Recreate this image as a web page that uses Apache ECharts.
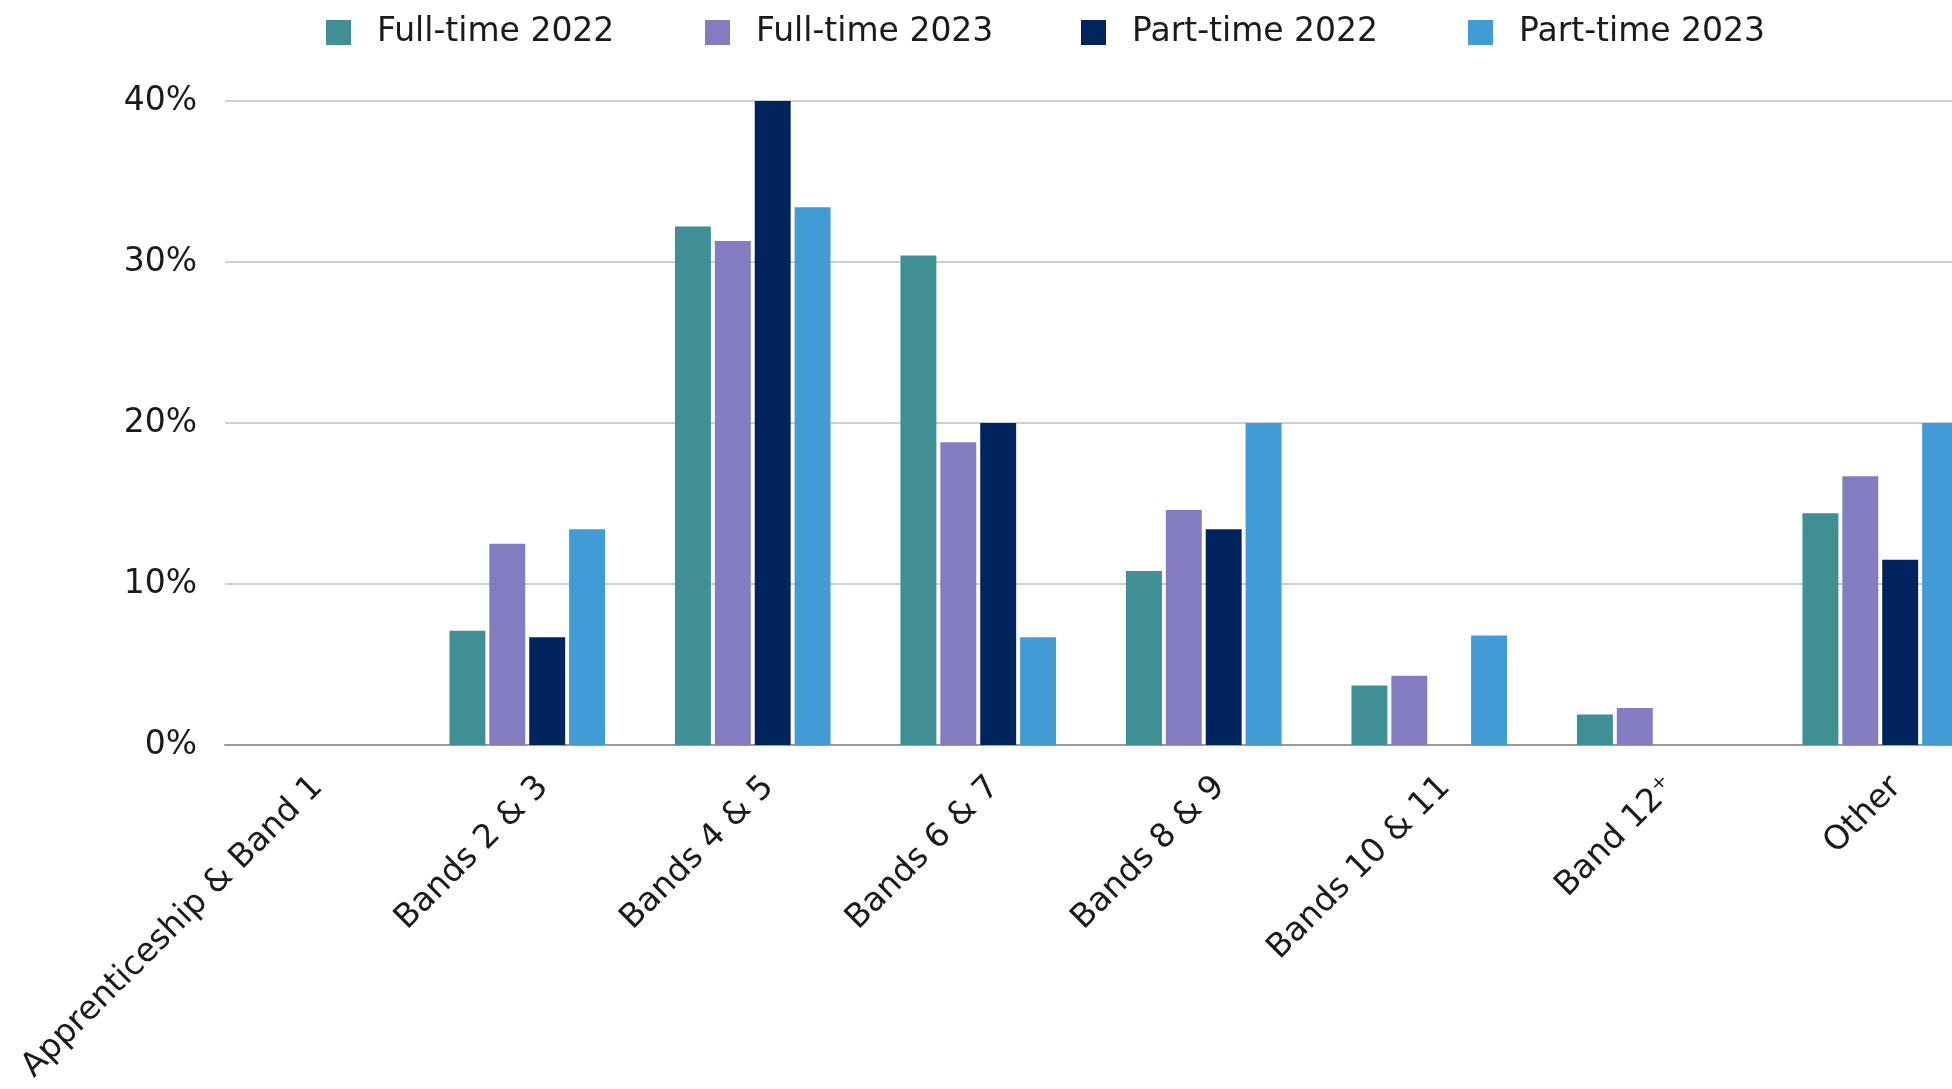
<!DOCTYPE html>
<html>
<head>
<meta charset="utf-8">
<script src="https://cdn.jsdelivr.net/npm/echarts@6/dist/echarts.min.js"></script>
<style>
  html, body { margin: 0; padding: 0; background: #ffffff; overflow: hidden; }
  #chart { width: 1952px; height: 1089px; }
</style>
</head>
<body>
<div id="chart"></div>
<script>
// Pay band groups
const categories = ['Apprenticeship & Band 1', 'Bands 2 & 3', 'Bands 4 & 5', 'Bands 6 & 7',
  'Bands 8 & 9', 'Bands 10 & 11', 'Band 12\u207A', 'Other'];

// Share of staff in each band (%)
const fullTime2022 = [0, 7.1, 32.2, 30.4, 10.8, 3.7, 1.9, 14.4];
const fullTime2023 = [0, 12.5, 31.3, 18.8, 14.6, 4.3, 2.3, 16.7];
const partTime2022 = [0, 6.7, 40.0, 20.0, 13.4, 0, 0, 11.5];
const partTime2023 = [0, 13.4, 33.4, 6.7, 20.0, 6.8, 0, 20.0];

const seriesNames = ['Full-time 2022', 'Full-time 2023', 'Part-time 2022', 'Part-time 2023'];
const seriesColors = ['#3E9094', '#837CC0', '#00245E', '#419CD6'];

// Value axis range and steps
const yMin = 0, yMax = 40, yStep = 10;

// Horizontal layout: the band axis runs past the right edge of the canvas,
// so the last group is partly cut off.
const W = 1952;
const bandPx = 225.5;      // width of one band group
const bandLeft = 189;      // pixel where band 0 starts (index -0.5)
const labelShift = 16;     // rotated labels sit slightly right of the band centre

const FONT = '"DejaVu Sans", sans-serif';
const TEXT = '#1a1a1a';

const chart = echarts.init(document.getElementById('chart'), null, { renderer: 'canvas' });

const seriesData = [fullTime2022, fullTime2023, partTime2022, partTime2023];

// one legend block per series so each entry keeps its place
const legendLeft = [321, 700, 1076, 1463];
const legends = seriesNames.map((name, i) => ({
  top: 11,
  left: legendLeft[i],
  itemWidth: 25,
  itemHeight: 25,
  icon: 'rect',
  textStyle: { fontFamily: FONT, fontSize: 33, color: TEXT, padding: [0, 0, 0, 21] },
  data: [name]
}));

const barMax = -0.5 + (W - bandLeft) / bandPx;
const labelLeft = bandLeft + bandPx / 2 + labelShift;
const labelMax = (W - labelLeft) / bandPx;

const option = {
  backgroundColor: '#ffffff',
  animation: false,
  color: seriesColors,
  legend: legends,
  grid: [
    // bars
    { left: bandLeft, right: 0, top: 101, bottom: 344 },
    // value scale, gridlines and baseline
    { left: 225, right: 0, top: 101, bottom: 344 },
    // band labels
    { left: labelLeft, right: 0, top: 101, bottom: 344 }
  ],
  xAxis: [
    { gridIndex: 0, type: 'value', min: -0.5, max: barMax, show: false },
    {
      gridIndex: 1, type: 'value', min: 0, max: 1,
      axisLine: { show: true, lineStyle: { color: '#9a9a9a', width: 2 } },
      axisTick: { show: false }, axisLabel: { show: false }, splitLine: { show: false }
    },
    {
      gridIndex: 2, type: 'value', min: 0, max: labelMax, interval: 1,
      axisLine: { show: false }, axisTick: { show: false }, splitLine: { show: false },
      axisLabel: {
        show: true, rotate: 45, margin: 37,
        showMinLabel: true, showMaxLabel: false,
        fontFamily: FONT, fontSize: 33, color: TEXT,
        formatter: (v) => categories[Math.round(v)] || ''
      }
    }
  ],
  yAxis: [
    { gridIndex: 0, type: 'value', min: yMin, max: yMax, interval: yStep, show: false },
    {
      gridIndex: 1, type: 'value', min: yMin, max: yMax, interval: yStep,
      axisLine: { show: false }, axisTick: { show: false },
      axisLabel: {
        formatter: '{value}%', margin: 28,
        fontFamily: FONT, fontSize: 33, color: TEXT
      },
      splitLine: { show: true, lineStyle: { color: '#cfcfcf', width: 2 } }
    },
    { gridIndex: 2, type: 'value', min: yMin, max: yMax, show: false }
  ],
  series: seriesNames.map((name, i) => ({
    name: name,
    type: 'bar',
    xAxisIndex: 0,
    yAxisIndex: 0,
    data: seriesData[i].map((v, k) => [k, v]),
    barGap: '11%',
    barCategoryGap: '31%',
    itemStyle: { color: seriesColors[i] }
  }))
};

chart.setOption(option);
</script>
</body>
</html>
